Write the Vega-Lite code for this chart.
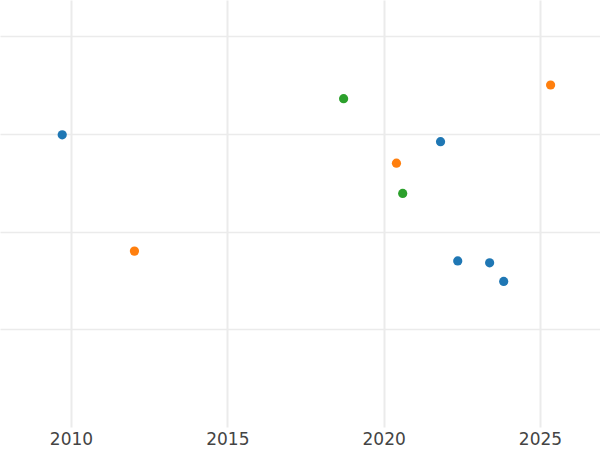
{
  "$schema": "https://vega.github.io/schema/vega-lite/v6.json",
  "width": 600,
  "height": 427,
  "autosize": {"type": "none"},
  "padding": {"left": 0, "right": 0, "top": 0, "bottom": 23},
  "background": "white",
  "config": {"view": {"stroke": null}},
  "data": {
    "values": [
      {"year": 2009.72, "value": 2.99, "group": "A"},
      {"year": 2012.03, "value": 1.80, "group": "B"},
      {"year": 2018.72, "value": 3.36, "group": "C"},
      {"year": 2020.41, "value": 2.70, "group": "B"},
      {"year": 2020.61, "value": 2.39, "group": "C"},
      {"year": 2021.82, "value": 2.92, "group": "A"},
      {"year": 2022.37, "value": 1.70, "group": "A"},
      {"year": 2023.39, "value": 1.68, "group": "A"},
      {"year": 2023.84, "value": 1.49, "group": "A"},
      {"year": 2025.34, "value": 3.50, "group": "B"}
    ]
  },
  "mark": {"type": "circle", "size": 85, "opacity": 1},
  "encoding": {
    "x": {
      "field": "year",
      "type": "quantitative",
      "scale": {"domain": [2007.73, 2026.92], "nice": false, "zero": false},
      "axis": {
        "title": null,
        "values": [2010, 2015, 2020, 2025],
        "format": "d",
        "domain": false,
        "ticks": false,
        "grid": true,
        "gridColor": "#ebebeb",
        "gridWidth": 2,
        "labelFont": "DejaVu Sans",
        "labelFontSize": 17,
        "labelColor": "#444444",
        "labelPadding": 4
      }
    },
    "y": {
      "field": "value",
      "type": "quantitative",
      "scale": {"domain": [0, 4.37], "nice": false, "zero": false},
      "axis": {
        "title": null,
        "values": [1, 2, 3, 4],
        "labels": false,
        "domain": false,
        "ticks": false,
        "grid": true,
        "gridColor": "#ebebeb",
        "gridWidth": 1.5
      }
    },
    "color": {
      "field": "group",
      "type": "nominal",
      "scale": {"domain": ["A", "B", "C"], "range": ["#1f77b4", "#ff7f0e", "#2ca02c"]},
      "legend": null
    }
  }
}
